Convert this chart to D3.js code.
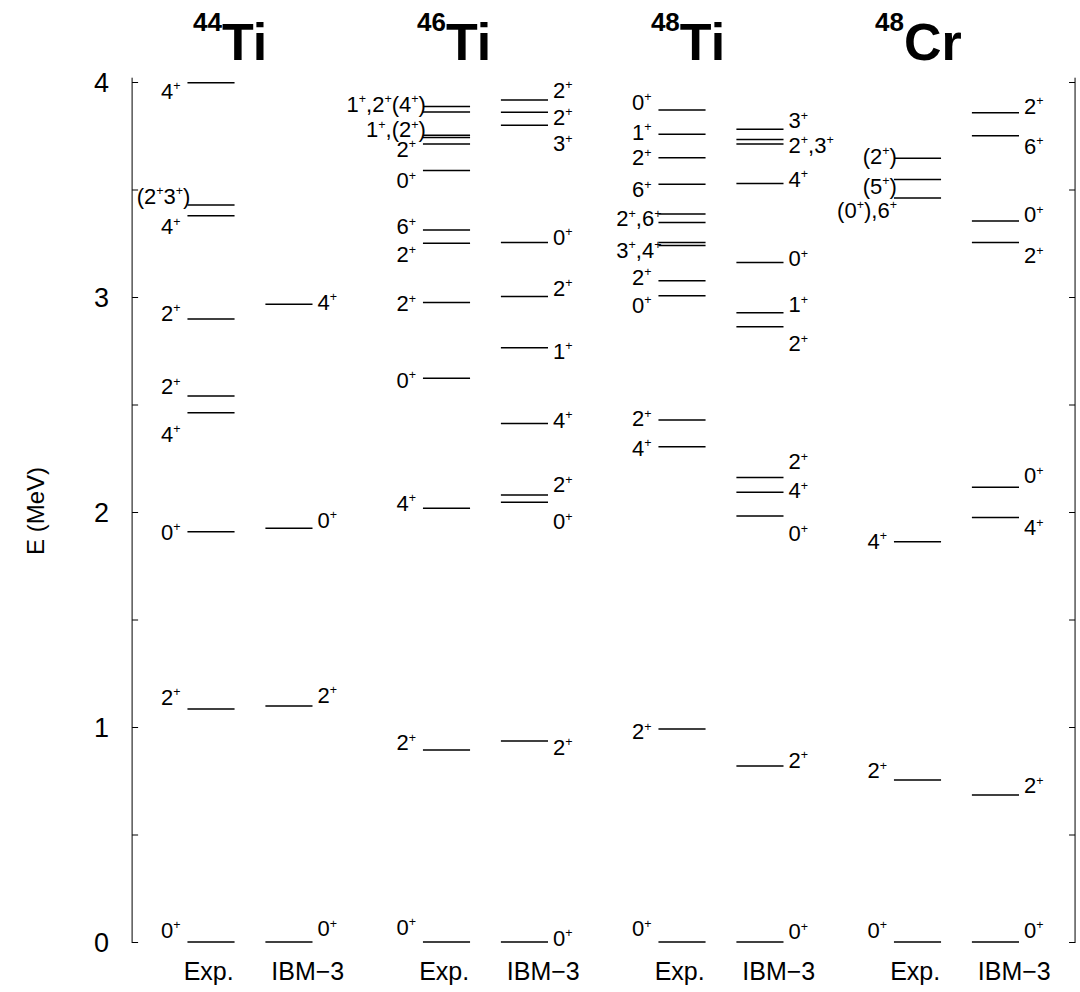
<!DOCTYPE html>
<html>
<head>
<meta charset="utf-8">
<script src="https://cdn.jsdelivr.net/npm/d3@7"></script>
<style>
  html, body { margin: 0; padding: 0; background: #fff; }
  text { font-family: "Liberation Sans", Arial, Helvetica, sans-serif; fill: #000; }
</style>
</head>
<body>
<svg id="chart" width="1080" height="992"></svg>
<script>
// ---------------- DATA ----------------
const massNumbers = ["44", "46", "48", "48"];
const elements = ["Ti", "Ti", "Ti", "Cr"];
const columnNames = ["Exp.", "IBM\u22123"];
const yTickValues = [0, 0.5, 1, 1.5, 2, 2.5, 3, 3.5, 4];
const yTickLabels = ["0", "", "1", "", "2", "", "3", "", "4"];

// 44Ti
const ti44ExpE   = [0, 1.084, 1.908, 2.462, 2.540, 2.898, 3.378, 3.428, 3.996];
const ti44ExpJ   = ["0+", "2+", "0+", "4+", "2+", "2+", "4+", "(2+3+)", "4+"];
const ti44ExpLbl = [0.056, 1.14, 1.908, 2.363, 2.584, 2.926, 3.328, 3.47, 3.96];
const ti44IbmE   = [0, 1.098, 1.924, 2.966];
const ti44IbmJ   = ["0+", "2+", "0+", "4+"];
const ti44IbmLbl = [0.065, 1.149, 1.965, 2.979];

// 46Ti
const ti46ExpE   = [0, 0.893, 2.017, 2.622, 2.974, 3.250, 3.312, 3.588, 3.712, 3.742, 3.752, 3.860, 3.886];
const ti46ExpJ   = ["0+", "2+", "4+", "0+", "2+", "2+", "6+", "0+", "2+", "", "1+,(2+)", "", "1+,2+(4+)"];
const ti46ExpLbl = [0.07, 0.93, 2.044, 2.614, 2.972, 3.2, 3.33, 3.544, 3.69, null, 3.78, null, 3.90];
const ti46IbmE   = [0, 0.935, 2.045, 2.079, 2.412, 2.764, 3.002, 3.253, 3.799, 3.859, 3.916];
const ti46IbmJ   = ["0+", "2+", "0+", "2+", "4+", "1+", "2+", "0+", "3+", "2+", "2+"];
const ti46IbmLbl = [0.02, 0.907, 1.958, 2.130, 2.428, 2.751, 3.044, 3.281, 3.716, 3.839, 3.963];

// 48Ti
const ti48ExpE   = [0, 0.991, 2.304, 2.428, 3.006, 3.076, 3.239, 3.254, 3.347, 3.386, 3.524, 3.648, 3.757, 3.870];
const ti48ExpJ   = ["0+", "2+", "4+", "2+", "0+", "2+", "", "3+,4+", "", "2+,6+", "6+", "2+", "1+", "0+"];
const ti48ExpLbl = [0.065, 0.98, 2.298, 2.437, 2.963, 3.094, null, 3.219, null, 3.366, 3.502, 3.649, 3.769, 3.908];
const ti48IbmE   = [0, 0.819, 1.981, 2.092, 2.161, 2.862, 2.927, 3.161, 3.528, 3.712, 3.733, 3.780];
const ti48IbmJ   = ["0+", "2+", "0+", "4+", "2+", "2+", "1+", "0+", "4+", "", "2+,3+", "3+"];
const ti48IbmLbl = [0.05, 0.847, 1.902, 2.102, 2.237, 2.786, 2.967, 3.181, 3.549, null, 3.707, 3.823];

// 48Cr
const cr48ExpE   = [0, 0.753, 1.862, 3.460, 3.547, 3.645];
const cr48ExpJ   = ["0+", "2+", "4+", "(0+),6+", "(5+)", "(2+)"];
const cr48ExpLbl = [0.056, 0.80, 1.866, 3.405, 3.518, 3.657];
const cr48IbmE   = [0, 0.684, 1.974, 2.115, 3.253, 3.353, 3.750, 3.857];
const cr48IbmJ   = ["0+", "2+", "4+", "0+", "2+", "0+", "6+", "2+"];
const cr48IbmLbl = [0.056, 0.73, 1.928, 2.172, 3.195, 3.386, 3.703, 3.889];

// ---------------- LAYOUT ----------------
const nucleiData = [
  [[ti44ExpE, ti44ExpJ, ti44ExpLbl], [ti44IbmE, ti44IbmJ, ti44IbmLbl]],
  [[ti46ExpE, ti46ExpJ, ti46ExpLbl], [ti46IbmE, ti46IbmJ, ti46IbmLbl]],
  [[ti48ExpE, ti48ExpJ, ti48ExpLbl], [ti48IbmE, ti48IbmJ, ti48IbmLbl]],
  [[cr48ExpE, cr48ExpJ, cr48ExpLbl], [cr48IbmE, cr48IbmJ, cr48IbmLbl]]
];
const colOffset = [0, 0.331];      // column position within a nucleus (x units)
const halfWidth = 0.1;             // half length of a level line (x units)
const titleOffset = [-0.076, -0.125, -0.132, -0.18];
const colLabelOffset = [-0.01, 0.08];

const svg = d3.select("#chart");
const x = d3.scaleLinear().domain([0, 1]).range([211, 446.5]);
const y = d3.scaleLinear().domain([0, 4]).range([942, 82]);
const axisLeftX = x(-0.335), axisRightX = x(3.669);

// Axes
const leftAxis = d3.axisLeft(y).tickValues(yTickValues)
  .tickFormat((d, i) => yTickLabels[i]).tickSize(-6).tickSizeOuter(0).tickPadding(23);
const gL = svg.append("g").attr("transform", `translate(${axisLeftX},0)`).call(leftAxis);
gL.selectAll("text").style("font-size", "27px").attr("dy", "0.36em");
const rightAxis = d3.axisRight(y).tickValues(yTickValues).tickFormat("").tickSize(-6).tickSizeOuter(0);
const gR = svg.append("g").attr("transform", `translate(${axisRightX},0)`).call(rightAxis);
svg.selectAll(".domain, .tick line").attr("stroke", "#000").attr("stroke-width", 1);
gL.select(".domain").attr("d", `M0,${y(0) + 1}V${y(4.02)}`);
gR.select(".domain").attr("d", `M0,${y(0) + 1}V${y(4.02)}`);

// Y axis title
svg.append("text")
  .attr("transform", `translate(44,511) rotate(-90)`)
  .attr("text-anchor", "middle")
  .style("font-size", "24px")
  .text("E (MeV)");

// label with superscript "+"
function addLabel(str, xPos, yPos, anchor) {
  const t = svg.append("text").attr("x", xPos).attr("y", yPos)
    .attr("text-anchor", anchor).style("font-size", "22px");
  const parts = str.split(/(\+)/).filter(p => p.length);
  let raised = false;
  parts.forEach(p => {
    if (p === "+") {
      t.append("tspan").attr("dy", raised ? 0 : -8.5).style("font-size", "12.5px").text("+");
      raised = true;
    } else {
      t.append("tspan").attr("dy", raised ? 8.5 : 0).text(p);
      raised = false;
    }
  });
}

nucleiData.forEach((cols, ni) => {
  // title
  const tt = svg.append("text").attr("x", x(ni + titleOffset[ni])).attr("y", 60)
    .style("font-weight", "bold");
  tt.append("tspan").attr("y", 31).style("font-size", "26px").text(massNumbers[ni]);
  tt.append("tspan").attr("y", 60).style("font-size", "52px").text(elements[ni]);

  cols.forEach(([E, J, L], ci) => {
    const cx = ni + colOffset[ci];
    const x1 = x(cx - halfWidth), x2 = x(cx + halfWidth);
    svg.append("g").selectAll("line").data(E).join("line")
      .attr("x1", x1).attr("x2", x2)
      .attr("y1", d => y(d)).attr("y2", d => y(d))
      .attr("stroke", "#000").attr("stroke-width", 1.5);
    J.forEach((lab, k) => {
      if (!lab || L[k] == null) return;
      const long = lab.length > 2;
      if (ci === 0) {
        addLabel(lab, x1 - (long ? -3 : 7), y(L[k]) + 8, "end");
      } else {
        addLabel(lab, x2 + 5, y(L[k]) + 8, "start");
      }
    });
    // column label
    svg.append("text").attr("x", x(cx + colLabelOffset[ci])).attr("y", 980)
      .attr("text-anchor", "middle").style("font-size", "25px").text(columnNames[ci]);
  });
});
</script>
</body>
</html>
